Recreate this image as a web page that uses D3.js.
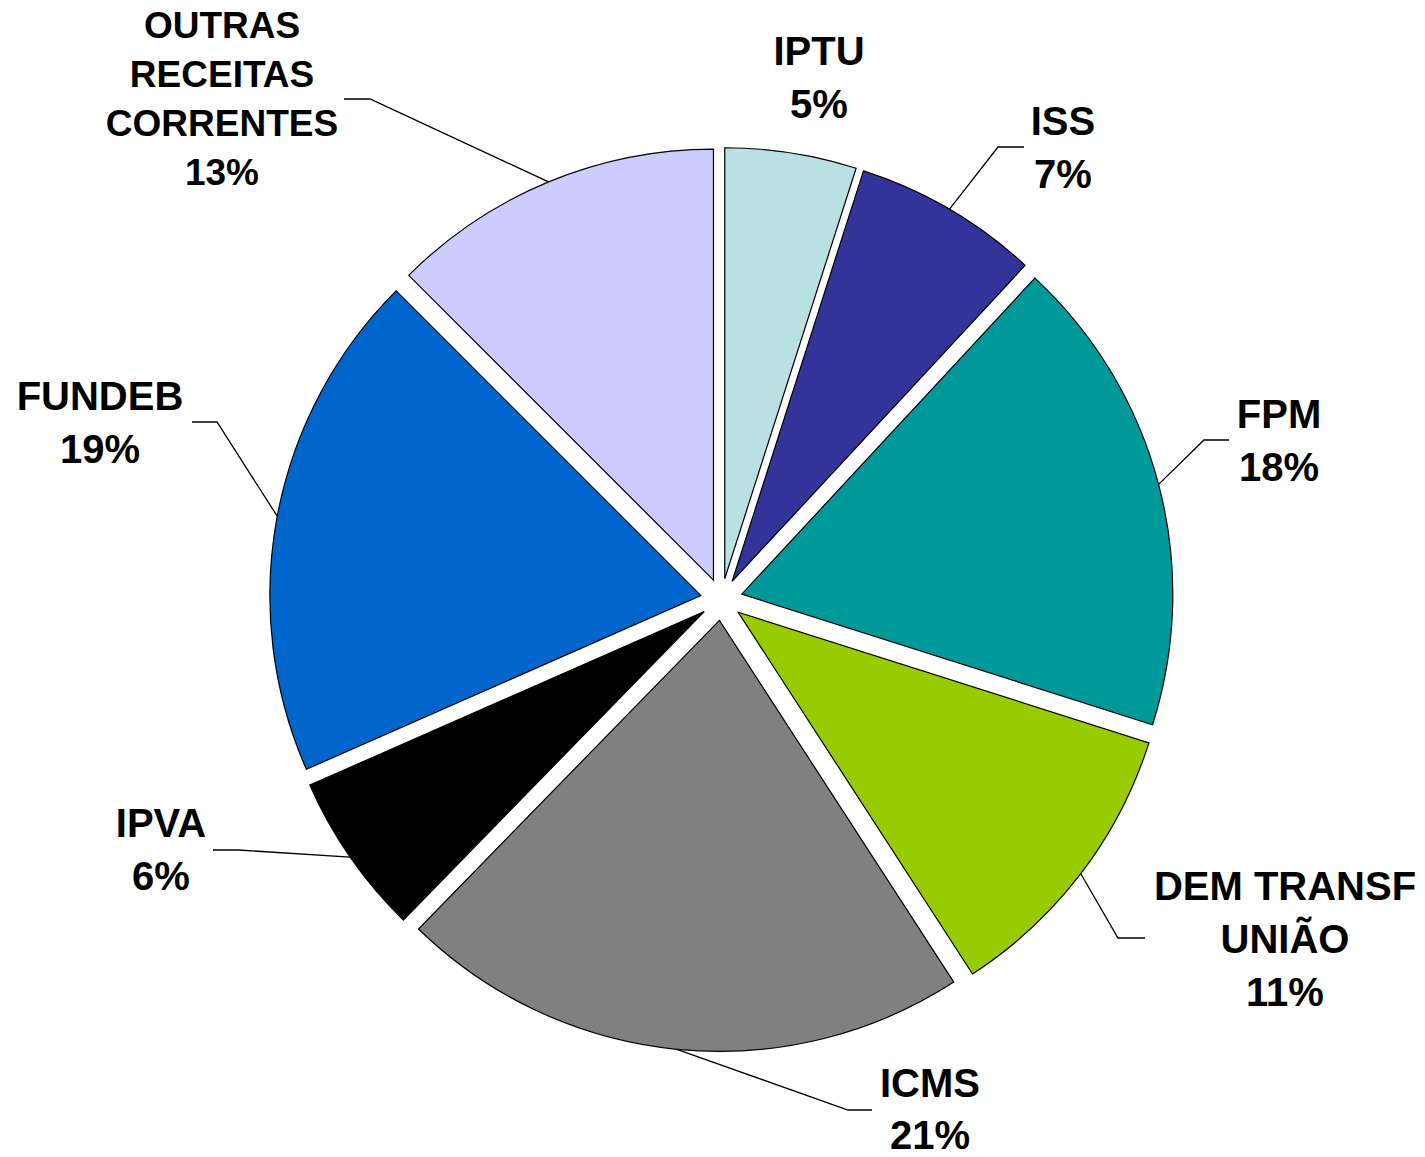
<!DOCTYPE html>
<html>
<head>
<meta charset="utf-8">
<script src="https://cdn.jsdelivr.net/npm/d3@7"></script>
<style>
  html, body { margin: 0; padding: 0; background: #ffffff; }
  svg { display: block; }
  text { font-family: "Liberation Sans", Arial, sans-serif; font-weight: bold; fill: #000; }
</style>
</head>
<body>
<svg id="chart" width="1425" height="1157"></svg>
<script>
// ---- data ----
const categories = ["IPTU", "ISS", "FPM", "DEM TRANSF\nUNIÃO", "ICMS", "IPVA", "FUNDEB", "OUTRAS\nRECEITAS\nCORRENTES"];
const shares     = [4.93, 6.97, 18.0, 10.95, 21.45, 6.1, 19.1, 12.5];
const colors     = ["#B9E0E3", "#333399", "#009999", "#99CC00", "#808080", "#000000", "#0066CC", "#CCCCFF"];

// ---- layout (label placement, not data) ----
const labelLayout = [
  { x: 819,  y: 65,   fs: 40, lh: 53, leader: null },
  { x: 1063, y: 135,  fs: 40, lh: 53, leader: [[998, 147], [1024, 147]] },
  { x: 1279, y: 428,  fs: 40, lh: 53, leader: [[1204, 440], [1229, 440]] },
  { x: 1285, y: 900,  fs: 40, lh: 53, leader: [[1118, 938], [1145, 938]] },
  { x: 930,  y: 1097, fs: 40, lh: 52, leader: [[848, 1110], [872, 1110]] },
  { x: 161,  y: 837,  fs: 40, lh: 53, leader: [[238, 850], [213, 850]] },
  { x: 100,  y: 410,  fs: 40, lh: 53, leader: [[217, 422], [192, 422]] },
  { x: 222,  y: 38,   fs: 37, lh: 49, leader: [[370, 99], [344, 99]] }
];

const cx = 721.5, cy = 599.5, radius = 431, explode = 21;

const svg = d3.select("#chart");
const g = svg.append("g").attr("transform", `translate(${cx},${cy})`);

const total = d3.sum(shares);
const pie = d3.pie().sort(null).value(d => d.v).startAngle(0).endAngle(2 * Math.PI);
const arcs = pie(shares.map((v, i) => ({ v, i })));
const arc = d3.arc().innerRadius(0).outerRadius(radius);

function offset(d) {
  const m = (d.startAngle + d.endAngle) / 2;
  return [explode * Math.sin(m), -explode * Math.cos(m)];
}

// slices
g.selectAll("path.slice")
  .data(arcs)
  .join("path")
  .attr("class", "slice")
  .attr("d", arc)
  .attr("transform", d => { const o = offset(d); return `translate(${o[0]},${o[1]})`; })
  .attr("fill", d => colors[d.data.i])
  .attr("stroke", "#000")
  .attr("stroke-width", 1.2)
  .attr("stroke-linejoin", "miter");

// leader lines
const line = d3.line();
arcs.forEach(d => {
  const L = labelLayout[d.data.i];
  if (!L.leader) return;
  const m = (d.startAngle + d.endAngle) / 2;
  const o = offset(d);
  const p0 = [cx + o[0] + radius * Math.sin(m), cy + o[1] - radius * Math.cos(m)];
  svg.append("path")
    .attr("d", line([p0, L.leader[0], L.leader[1]]))
    .attr("fill", "none")
    .attr("stroke", "#000")
    .attr("stroke-width", 1.3);
});

// labels
arcs.forEach(d => {
  const i = d.data.i;
  const L = labelLayout[i];
  const lines = categories[i].split("\n");
  lines.push(Math.round(d.data.v / total * 100) + "%");
  const t = svg.append("text")
    .attr("text-anchor", "middle")
    .style("font-size", L.fs + "px");
  lines.forEach((s, k) => {
    t.append("tspan").attr("x", L.x).attr("y", L.y + k * L.lh).text(s);
  });
});
</script>
</body>
</html>
